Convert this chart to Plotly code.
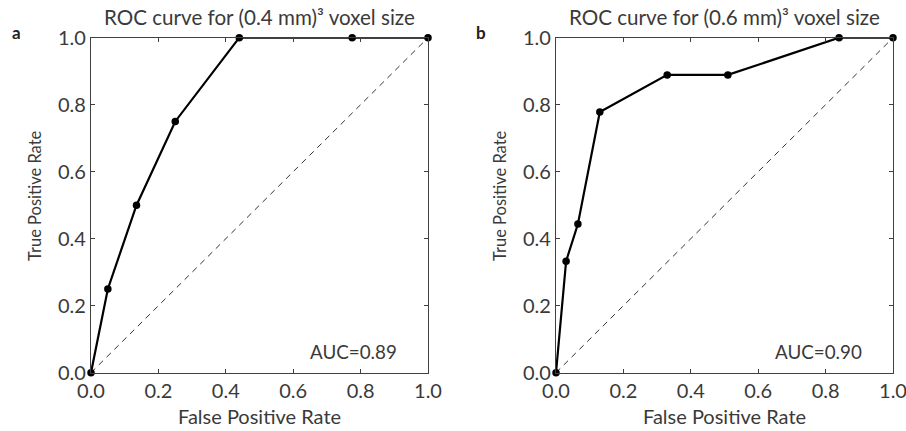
import plotly.graph_objects as go

# ---- data ----
fpr_a = [0.0, 0.05, 0.135, 0.25, 0.44, 0.775, 1.0]
tpr_a = [0.0, 0.25, 0.50, 0.75, 1.0, 1.0, 1.0]
fpr_b = [0.0, 0.03, 0.065, 0.13, 0.33, 0.51, 0.84, 1.0]
tpr_b = [0.0, 0.333, 0.444, 0.778, 0.889, 0.889, 1.0, 1.0]
diag = [0.0, 1.0]
titles = ["ROC curve for (0.4 mm)³ voxel size", "ROC curve for (0.6 mm)³ voxel size"]
auc_labels = ["AUC=0.89", "AUC=0.90"]
panel_letters = ["a", "b"]
tick_vals = [0.0, 0.2, 0.4, 0.6, 0.8, 1.0]
tick_text = ["0.0", "0.2", "0.4", "0.6", "0.8", "1.0"]

W, H = 906, 431
FONT = "Lato"
TXT = "#3a3a3a"
FS = 20

fig = go.Figure()
for i, (fx, ty) in enumerate([(fpr_a, tpr_a), (fpr_b, tpr_b)]):
    xa = "x" if i == 0 else "x2"
    ya = "y" if i == 0 else "y2"
    fig.add_trace(go.Scatter(x=diag, y=diag, mode="lines", xaxis=xa, yaxis=ya,
                             line=dict(color="#333333", width=1, dash="6px,5px"),
                             showlegend=False, hoverinfo="skip"))
    fig.add_trace(go.Scatter(x=fx, y=ty, mode="lines+markers", xaxis=xa, yaxis=ya,
                             line=dict(color="black", width=2.2),
                             marker=dict(color="black", size=7.5),
                             cliponaxis=False, showlegend=False))

# plot areas in pixels
px_a = (91, 428)
px_b = (556, 893)
py = (37.7, 372.7)

def dom_x(p):
    return [p[0] / W, p[1] / W]

ydom = [1 - py[1] / H, 1 - py[0] / H]

axis_common = dict(range=[0, 1], tickvals=tick_vals, ticktext=tick_text,
                   ticks="inside", ticklen=4, tickcolor="#404040", tickwidth=1,
                   showline=True, linecolor="#404040", linewidth=1.3, mirror="ticks",
                   showgrid=False, zeroline=False, automargin=False,
                   ticklabeloverflow="allow",
                   tickfont=dict(family=FONT, size=FS, color=TXT))

fig.update_layout(
    width=W, height=H,
    margin=dict(l=0, r=0, t=0, b=0, pad=0, autoexpand=False),
    paper_bgcolor="white", plot_bgcolor="white",
    xaxis=dict(domain=dom_x(px_a), anchor="y", **axis_common),
    yaxis=dict(domain=ydom, anchor="x", **axis_common),
    xaxis2=dict(domain=dom_x(px_b), anchor="y2", **axis_common),
    yaxis2=dict(domain=ydom, anchor="x2", **axis_common),
)

ann = []
for i, (p, xr, yr) in enumerate([(px_a, "x", "y"), (px_b, "x2", "y2")]):
    cx = (p[0] + p[1]) / 2 / W
    ann.append(dict(text=titles[i], xref="paper", yref="paper", x=cx, y=1 - 17 / H,
                    xanchor="center", yanchor="middle", showarrow=False,
                    font=dict(family=FONT, size=20.6, color=TXT)))
    ann.append(dict(text="False Positive Rate", xref="paper", yref="paper", x=cx, y=1 - 416 / H,
                    xanchor="center", yanchor="middle", showarrow=False,
                    font=dict(family=FONT, size=FS, color=TXT)))
    ann.append(dict(text="True Positive Rate", xref="paper", yref="paper",
                    x=(p[0] - 56) / W, y=1 - 196 / H, textangle=-90,
                    xanchor="center", yanchor="middle", showarrow=False,
                    font=dict(family=FONT, size=16.5, color=TXT)))
    ann.append(dict(text=auc_labels[i], xref=xr, yref=yr, x=0.914, y=0.063,
                    xanchor="right", yanchor="middle", showarrow=False,
                    font=dict(family=FONT, size=18.8, color=TXT)))
    ann.append(dict(text="<b>" + panel_letters[i] + "</b>", xref="paper", yref="paper",
                    x=(p[0] - 75) / W, y=1 - 33 / H,
                    xanchor="center", yanchor="middle", showarrow=False,
                    font=dict(family=FONT, size=17, color="#222222")))
fig.update_layout(annotations=ann)

fig.write_html("out.html")
